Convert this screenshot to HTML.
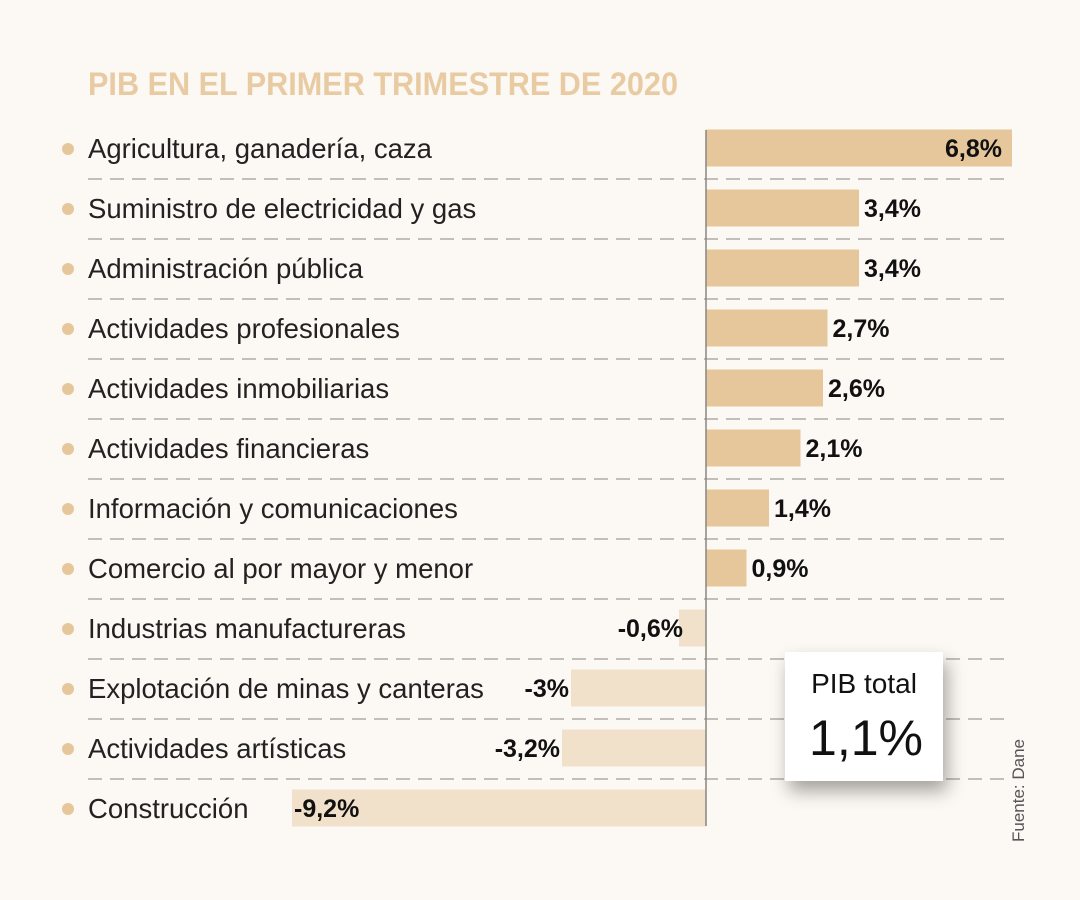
<!DOCTYPE html>
<html><head><meta charset="utf-8"><style>
body{margin:0;background:#fcf8f3;}
svg{display:block;font-family:"Liberation Sans",sans-serif;}
</style></head><body>
<svg id="c" width="1080" height="900">
<rect width="1080" height="900" fill="#fcf8f3"/>
<text x="88" y="95" font-size="32" font-weight="bold" fill="#e8cba2" textLength="590" lengthAdjust="spacingAndGlyphs">PIB EN EL PRIMER TRIMESTRE DE 2020</text>
<g id="rows"></g>
<line x1="706" y1="130" x2="706" y2="826" stroke="#8a8580" stroke-width="1.5"/>
<defs><filter id="sh" x="-30%" y="-30%" width="160%" height="170%"><feDropShadow dx="4" dy="10" stdDeviation="9" flood-color="#000" flood-opacity="0.35"/></filter></defs>
<g>
<rect x="785" y="652" width="158" height="129" fill="#fff" filter="url(#sh)"/>
<text x="864" y="693" font-size="28" text-anchor="middle" fill="#111">PIB total</text>
<text x="866" y="755" font-size="50" text-anchor="middle" fill="#111">1,1%</text>
</g>
<text transform="translate(1024,842) rotate(-90)" font-size="17" fill="#555">Fuente: Dane</text>
</svg>
<script>
const categories=["Agricultura, ganadería, caza","Suministro de electricidad y gas","Administración pública","Actividades profesionales","Actividades inmobiliarias","Actividades financieras","Información y comunicaciones","Comercio al por mayor y menor","Industrias manufactureras","Explotación de minas y canteras","Actividades artísticas","Construcción"];
const values=[6.8,3.4,3.4,2.7,2.6,2.1,1.4,0.9,-0.6,-3,-3.2,-9.2];
const valueLabels=["6,8%","3,4%","3,4%","2,7%","2,6%","2,1%","1,4%","0,9%","-0,6%","-3%","-3,2%","-9,2%"];
const ns="http://www.w3.org/2000/svg";
const x0=706,k=45,y0=148,step=60,bh=37;
const xS=v=>x0+v*k, yS=i=>y0+i*step;
const g=document.getElementById('rows');
function mk(t,a){const e=document.createElementNS(ns,t);for(const n in a)e.setAttribute(n,a[n]);g.appendChild(e);return e;}
categories.forEach((c,i)=>{
 const y=yS(i),v=values[i];
 if(i<categories.length-1){
  const l=mk('line',{x1:88,x2:1005,y1:y+31,y2:y+31,stroke:'#8a8580','stroke-width':1,'stroke-dasharray':'14 8'});
  
  
 }
 const d=mk('circle',{cx:68,cy:y+1,r:6,fill:'#e6c79c'});
 
 
 const t=mk('text',{x:88,y:y+10,'font-size':27.5,fill:'#222'});t.textContent=c;
 
 
 const xa=Math.min(xS(v),x0),w=Math.abs(xS(v)-x0);
 const r=mk('rect',{x:xa,y:y-bh/2,width:w,height:bh,fill:v>=0?'#e6c79c':'#f1e1cb'});
 
 
 let lx,anchor;
 if(i===0){lx=xS(v)-10;anchor='end';}
 else if(v>=0){lx=xS(v)+5;anchor='start';}
 else if(v>-1){lx=xS(v)+4;anchor='end';}
 else if(v<-5){lx=xS(v)+2;anchor='start';}
 else {lx=xS(v)-2;anchor='end';}
 const vt=mk('text',{x:lx,y:y+9,'font-size':25,'font-weight':'bold',fill:'#111','text-anchor':anchor});
 vt.textContent=valueLabels[i];
 
 
});
</script>
</body></html>
